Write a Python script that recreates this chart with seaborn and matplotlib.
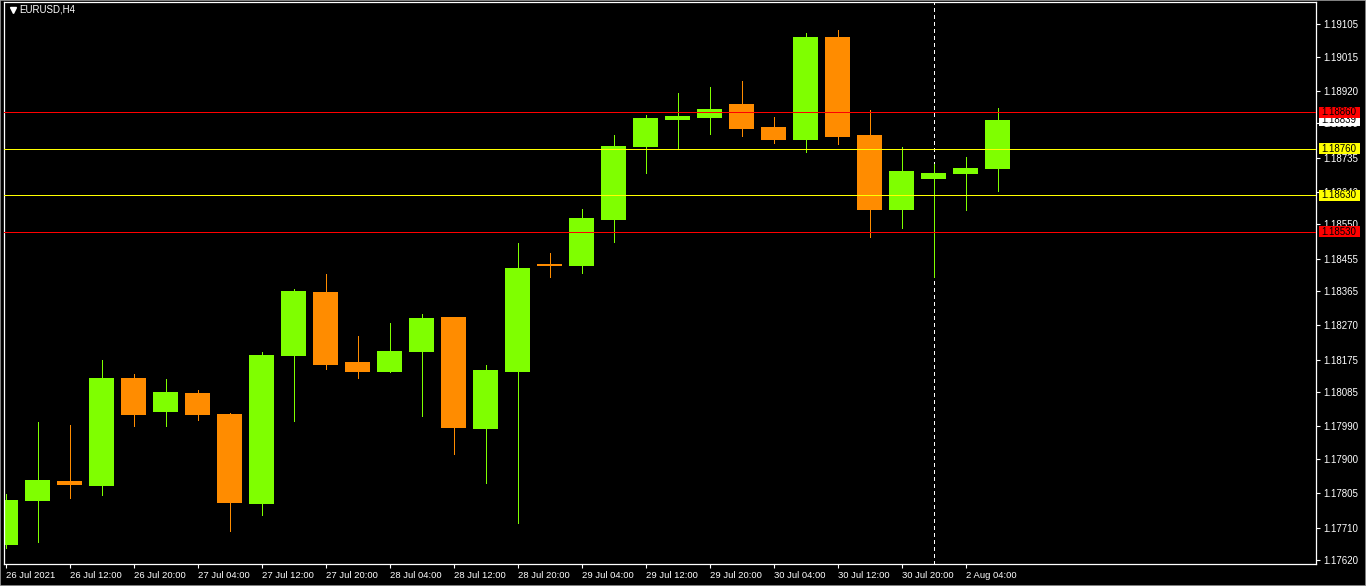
import numpy as np
import pandas as pd
import matplotlib
matplotlib.use("Agg")
import matplotlib.pyplot as plt
import matplotlib.transforms as mtransforms
from matplotlib.patches import Rectangle
import seaborn as sns

# EURUSD H4 bars, 26 Jul 04:00 .. 2 Aug 08:00
opens = [1.17662, 1.17783, 1.17839, 1.17825, 1.18124, 1.18030, 1.18083, 1.18024,
         1.17775, 1.18185, 1.18363, 1.18169, 1.18141, 1.18196, 1.18293, 1.17983,
         1.18141, 1.18440, 1.18435, 1.18562, 1.18764, 1.18839, 1.18845, 1.18883,
         1.18820, 1.18784, 1.19069, 1.18797, 1.18590, 1.18676, 1.18689, 1.18703]
highs = [1.17803, 1.18002, 1.17994, 1.18174, 1.18135, 1.18121, 1.18091, 1.18027,
         1.18196, 1.18371, 1.18412, 1.18241, 1.18277, 1.18302, 1.18293, 1.18160,
         1.18498, 1.18471, 1.18592, 1.18797, 1.18853, 1.18914, 1.18930, 1.18947,
         1.18847, 1.19080, 1.19088, 1.18867, 1.18764, 1.18717, 1.18737, 1.18872]
lows = [1.17653, 1.17670, 1.17792, 1.17800, 1.17991, 1.17991, 1.18008, 1.17700,
        1.17745, 1.18005, 1.18149, 1.18124, 1.18141, 1.18019, 1.17914, 1.17833,
        1.17723, 1.18404, 1.18415, 1.18501, 1.18692, 1.18761, 1.18800, 1.18795,
        1.18775, 1.18750, 1.18773, 1.18515, 1.18540, 1.18404, 1.18590, 1.18642]
closes = [1.17786, 1.17842, 1.17828, 1.18124, 1.18022, 1.18085, 1.18022, 1.17778,
          1.18188, 1.18365, 1.18160, 1.18141, 1.18199, 1.18290, 1.17986, 1.18146,
          1.18429, 1.18435, 1.18568, 1.18767, 1.18845, 1.18850, 1.18870, 1.18814,
          1.18784, 1.19069, 1.18792, 1.18590, 1.18698, 1.18692, 1.18706, 1.18839]

time_labels = ["26 Jul 2021", "26 Jul 12:00", "26 Jul 20:00", "27 Jul 04:00",
               "27 Jul 12:00", "27 Jul 20:00", "28 Jul 04:00", "28 Jul 12:00",
               "28 Jul 20:00", "29 Jul 04:00", "29 Jul 12:00", "29 Jul 20:00",
               "30 Jul 04:00", "30 Jul 12:00", "30 Jul 20:00", "2 Aug 04:00"]
price_ticks = [1.19105, 1.19015, 1.18920, 1.18830, 1.18735, 1.18640, 1.18550,
               1.18455, 1.18365, 1.18270, 1.18175, 1.18085, 1.17990, 1.17900,
               1.17805, 1.17710, 1.17620]

levels = [1.18860, 1.18760, 1.18630, 1.18530]
level_colors = ["#FF0000", "#FFFF00", "#FFFF00", "#FF0000"]
bid_price = 1.18839
separator_bar = 29  # 2 Aug 00:00

UP = "#7FFF00"
DOWN = "#FF8C00"
ONE_PX = 0.72  # 1 pixel at 100 dpi

sns.set_theme(style="dark", rc={"axes.facecolor": "black", "figure.facecolor": "black"})
plt.rcParams["font.family"] = ["Liberation Sans", "DejaVu Sans"]

df = pd.DataFrame({"open": opens, "high": highs, "low": lows, "close": closes})
df["x"] = np.arange(len(df))
df["color"] = np.where(df["close"] >= df["open"], UP, DOWN)
df["bottom"] = df[["open", "close"]].min(axis=1)
df["body"] = (df["close"] - df["open"]).abs().clip(lower=0.00005)

fig = plt.figure(figsize=(13.66, 5.86), dpi=100)
ax = fig.add_axes([4 / 1366, 22 / 586, 1312 / 1366, 562 / 586])
ax.set_facecolor("black")

ax.axvline(separator_bar, color="white", lw=ONE_PX, ls=(0, (4, 4)), zorder=1,
           antialiased=False)
ax.vlines(df["x"], df["low"], df["high"], colors=df["color"], lw=ONE_PX, zorder=2,
          antialiased=False)
ax.bar(df["x"], df["body"], bottom=df["bottom"], width=0.78, color=df["color"],
       linewidth=0, zorder=2)
for lvl, col in zip(levels, level_colors):
    ax.axhline(lvl, color=col, lw=ONE_PX, zorder=3, antialiased=False)

ax.set_xlim(-0.047, 40.95)
ax.set_ylim(1.17609, 1.19166)
ax.grid(False)
for sp in ax.spines.values():
    sp.set_color("white")
    sp.set_linewidth(0.9)
    sp.set_visible(True)

ax.yaxis.tick_right()
ax.set_yticks(price_ticks)
ax.set_yticklabels([f"{v:.5f}" for v in price_ticks])
ax.set_xticks(np.arange(0, 31, 2))
ax.set_xticklabels(time_labels, ha="left")
ax.tick_params(axis="both", colors="white", labelcolor="white", labelsize=7,
               length=3, width=0.8, direction="out")
ax.tick_params(axis="y", pad=2, right=True, left=False)
ax.tick_params(axis="x", pad=2, bottom=True, labelsize=6.8)

# price tags on the right scale: fixed-width boxes covering the tick labels
trans = mtransforms.blended_transform_factory(ax.transAxes, ax.transData)
px = (1.19166 - 1.17609) / 562
tags = [(bid_price, "white", 5)] + [(l, c, 6) for l, c in zip(levels, level_colors)]
for val, col, z in tags:
    ax.add_patch(Rectangle((1.0023, val - 5.5 * px), 0.0312, 11 * px, transform=trans,
                           facecolor=col, edgecolor="none", clip_on=False, zorder=z))
    ax.text(1.0040, val, f"{val:.5f}", transform=trans, fontsize=7, color="black",
            va="center", ha="left", clip_on=False, zorder=z)

ax.plot([0.0065], [0.986], marker="v", color="white", markersize=4,
        transform=ax.transAxes, clip_on=False)
ax.text(0.012, 0.986, "EURUSD,H4", transform=ax.transAxes, fontsize=7,
        color="white", va="center", ha="left")

fig.patches.append(Rectangle((0, 0), 1, 1, transform=fig.transFigure, fill=False,
                             edgecolor="#9A9A9A", lw=1.2))

fig.savefig("out.png", dpi=100, facecolor="black")
